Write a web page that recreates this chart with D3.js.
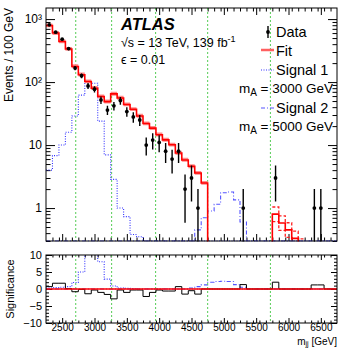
<!DOCTYPE html>
<html>
<head>
<meta charset="utf-8">
<script src="https://cdn.jsdelivr.net/npm/d3@7"></script>
<style>
body { margin: 0; background: #fff; }
svg { display: block; font-family: "Liberation Sans", Arial, Helvetica, sans-serif; }
</style>
</head>
<body>
<svg id="chart" width="346" height="348"></svg>
<script>
// binning: 100 GeV bins from 2250 to 6750
var binLow = 2250, binWidth = 100, nBins = 45;

// observed events per bin
var dataCounts = [810, 620, 480, 340, 167, 126, 87, 77, 52, 36, 42, 51, 34, 28, 25, 10, 12, 11, 8, 6, 8, 2, 3, 1, 0,
                  0, 0, 0, 0, 0, 1, 0, 0, 0, 0, 3, 0, 0, 0, 0, 0, 1, 1, 0, 0];
// background fit (values below the axis minimum are off-scale)
var fitValues = [790, 600, 440, 335, 177, 131, 102, 80, 59, 49, 65, 56, 44, 37, 29, 22, 18.6, 14.6, 12.1, 10.1, 7.5, 5.8, 4.6, 3.6, 2.5,
                 0, 0, 0, 0, 0, 0, 0, 0, 0, 0, 0.8, 0.58, 0.45, 0.33, 0.25, 0, 0, 0, 0, 0];
var fitWindows = [[0, 24], [35, 39]];
// signal 1 (mA = 3000 GeV), signal 2 (mA = 5000 GeV)
var signal1 = [4.0, 6.8, 10, 16, 29, 62, 100, 96, 24, 7, 2.85, 1.0, 0.73, 0.38, 0.35, 0, 0, 0, 0, 0, 0, 0, 0, 0, 0,
               0, 0, 0, 0, 0, 0, 0, 0, 0, 0, 0, 0, 0, 0, 0, 0, 0, 0, 0, 0];
var signal2 = [0, 0, 0, 0, 0, 0, 0, 0, 0, 0, 0, 0, 0, 0, 0, 0, 0, 0, 0, 0, 0, 0, 0.28, 0.45, 0.7,
               0.9, 1.15, 1.75, 1.8, 1.35, 0.6, 0.25, 0, 0, 0, 0, 0, 0, 0, 0, 0, 0, 0, 0, 0];
// lower panel: significance of data vs fit, and of the signals
var significance = [0.7, 1.7, 1.7, 0.1, -0.8, -0.1, -1.4, -0.3, -1.0, -1.6, -2.9, -0.3, -1.0, -0.3, -0.3, -2.2, -1.0, -0.3, -0.6, -0.6, 0.7, -1.5, -0.5, -1.5, 0,
                    0, 0, 0, 0, 0, 1.3, 0, 0, 0, 0, 2.0, 0, 0, 0, 0, 0, 1.2, 1.2, 0, 0];
var sigSignal1 = [0.3, 0.4, 0.5, 0.7, 1.9, 5.0, 14, 14, 8, 2.9, 0.9, 0.3, 0.2, 0.1, 0, 0, 0, 0, 0, 0, 0, 0, 0, 0, 0,
                  0, 0, 0, 0, 0, 0, 0, 0, 0, 0, 0, 0, 0, 0, 0, 0, 0, 0, 0, 0];
var sigSignal2 = [0, 0, 0, 0, 0, 0, 0, 0, 0, 0, 0, 0, 0, 0, 0, 0, 0, 0, 0, 0, 0, 0, 0.3, 0.7, 1.2,
                  2.0, 2.2, 2.3, 2.2, 1.3, 0.5, 0, 0, 0, 0, 0, 0, 0, 0, 0, 0, 0, 0, 0, 0];
// search window boundaries (green dotted lines)
var windowLines = [2710, 3265, 3945, 4750, 5720];

var xTicks = [2500, 3000, 3500, 4000, 4500, 5000, 5500, 6000, 6500];
var yMainTicks = [1, 10, 100, 1000];
var yMainLabels = ['1', '10', '10²', '10³'];
var yLowTicks = [-10, -5, 0, 5, 10];

var padL = 46, padR = 337, mainTop = 8, mainBottom = 241, lowTop = 255, lowBottom = 323;
var font = '"Liberation Sans", Arial, Helvetica, sans-serif';

var edges = d3.range(nBins + 1).map(function(i) { return binLow + i * binWidth; });
var centers = d3.range(nBins).map(function(i) { return binLow + (i + 0.5) * binWidth; });

var x = d3.scaleLinear().domain([binLow, binLow + nBins * binWidth]).range([padL, padR]);
var y = d3.scaleLog().domain([0.3, 1500]).range([mainBottom, mainTop]);
var ys = d3.scaleLinear().domain([-10, 10]).range([lowBottom, lowTop]);

var svg = d3.select('#chart');

var defs = svg.append('defs');
defs.append('clipPath').attr('id', 'clipMain').append('rect')
    .attr('x', padL).attr('y', mainTop).attr('width', padR - padL).attr('height', mainBottom - mainTop + 0.5);
defs.append('clipPath').attr('id', 'clipLow').append('rect')
    .attr('x', padL).attr('y', lowTop).attr('width', padR - padL).attr('height', lowBottom - lowTop);

// step histogram path over bins [from, to]
var stepPath = function(vals, yScale, floor, from, to) {
    from = from || 0;
    to = to === undefined ? nBins - 1 : to;
    var pts = [];
    for (var i = from; i <= to; i++) pts.push([edges[i], vals[i]]);
    pts.push([edges[to + 1], vals[to]]);
    return d3.line()
        .x(function(d) { return x(d[0]); })
        .y(function(d) { return yScale(Math.max(d[1], floor)); })
        .curve(d3.curveStepAfter)(pts);
};

var drawAxes = function(g, xs, yscale, yb, yt, opt) {
    var minorX = d3.range(binLow + binWidth, binLow + nBins * binWidth, binWidth)
        .filter(function(v) { return v % 500 !== 0; });
    g.append('g').attr('class', 'xlab').attr('transform', 'translate(0,' + yb + ')')
        .call(d3.axisBottom(xs).tickValues(xTicks).tickSize(-opt.xMajor).tickPadding(opt.xPad)
            .tickFormat(opt.xLabels ? d3.format('d') : ''));
    g.append('g').attr('transform', 'translate(0,' + yb + ')')
        .call(d3.axisBottom(xs).tickValues(minorX).tickSize(-opt.xMajor / 2).tickFormat(''));
    g.append('g').attr('transform', 'translate(0,' + yt + ')')
        .call(d3.axisTop(xs).tickValues(xTicks).tickSize(-opt.xMajor).tickFormat(''));
    g.append('g').attr('transform', 'translate(0,' + yt + ')')
        .call(d3.axisTop(xs).tickValues(minorX).tickSize(-opt.xMajor / 2).tickFormat(''));

    g.append('g').attr('transform', 'translate(' + padL + ',0)')
        .call(d3.axisLeft(yscale).tickValues(opt.yMajorTicks).tickSize(-opt.yMajor).tickPadding(4)
            .tickFormat(opt.yFormat));
    g.append('g').attr('transform', 'translate(' + padL + ',0)')
        .call(d3.axisLeft(yscale).tickValues(opt.yMinorTicks).tickSize(-opt.yMajor / 2).tickFormat(''));
    g.append('g').attr('transform', 'translate(' + padR + ',0)')
        .call(d3.axisRight(yscale).tickValues(opt.yMajorTicks).tickSize(-opt.yMajor).tickFormat(''));
    g.append('g').attr('transform', 'translate(' + padR + ',0)')
        .call(d3.axisRight(yscale).tickValues(opt.yMinorTicks).tickSize(-opt.yMajor / 2).tickFormat(''));

    g.selectAll('.domain').remove();
    g.selectAll('.tick line').attr('stroke', '#000').attr('stroke-width', 1);
    g.selectAll('.tick text').attr('fill', '#000').style('font-family', font);
};

// ---------- main panel ----------
var main = svg.append('g');

var yMinor = [];
[0.1, 1, 10, 100].forEach(function(dec) {
    for (var k = 2; k <= 9; k++) {
        var v = dec * k;
        if (v >= 0.3 && v <= 1500) yMinor.push(v);
    }
});

var mainAxes = main.append('g');
drawAxes(mainAxes, x, y, mainBottom, mainTop, {
    xMajor: 7, xPad: 3, xLabels: false,
    yMajor: 9, yMajorTicks: yMainTicks, yMinorTicks: yMinor,
    yFormat: function(d) { return yMainLabels[yMainTicks.indexOf(d)]; }
});
mainAxes.selectAll('.tick text').style('font-size', '12px');

var mainPlot = main.append('g').attr('clip-path', 'url(#clipMain)');

// green window lines
mainPlot.selectAll('.win').data(windowLines).enter().append('line')
    .attr('x1', function(d) { return x(d); }).attr('x2', function(d) { return x(d); })
    .attr('y1', mainTop).attr('y2', mainBottom)
    .attr('stroke', '#5c5').attr('stroke-width', 1).attr('stroke-dasharray', '2,2');

// signals
mainPlot.append('path').attr('d', stepPath(signal1, y, 0.3))
    .attr('fill', 'none').attr('stroke', '#3333ff').attr('stroke-width', 1.1).attr('stroke-dasharray', '1,1.5');
mainPlot.append('path').attr('d', stepPath(signal2, y, 0.3))
    .attr('fill', 'none').attr('stroke', '#5555ff').attr('stroke-width', 1.1).attr('stroke-dasharray', '4,2,1,2');

// fit band and line
var relUnc = [0.08, 0.3];
fitWindows.forEach(function(w, wi) {
    var a = w[0], b = w[1];
    var up = fitValues.map(function(v) { return v * (1 + relUnc[wi]); });
    var dn = fitValues.map(function(v) { return v * (1 - relUnc[wi] * 0.8); });
    if (wi === 0) {
        var pts = d3.range(a, b + 2).map(function(i) {
            var j = Math.min(i, b);
            return [edges[i], dn[j], up[j]];
        });
        mainPlot.append('path')
            .attr('d', d3.area().x(function(d) { return x(d[0]); })
                .y0(function(d) { return y(d[1]); }).y1(function(d) { return y(d[2]); })
                .curve(d3.curveStepAfter)(pts))
            .attr('fill', '#ff8c8c');
    } else {
        [up, dn].forEach(function(arr) {
            mainPlot.append('path').attr('d', stepPath(arr, y, 0.05, a, b))
                .attr('fill', 'none').attr('stroke', '#ff2020').attr('stroke-width', 1.3).attr('stroke-dasharray', '3,2');
        });
    }
});
// full fit line, off-scale bins run along the bottom
mainPlot.append('path').attr('d', stepPath(fitValues, y, 0.05))
    .attr('fill', 'none').attr('stroke', '#ff0000').attr('stroke-width', 1.6);

// data points with sqrt(N) errors
var pts = centers.map(function(c, i) { return { x: c, n: dataCounts[i] }; })
    .filter(function(d) { return d.n > 0; });
mainPlot.selectAll('.err').data(pts).enter().append('line')
    .attr('x1', function(d) { return x(d.x); }).attr('x2', function(d) { return x(d.x); })
    .attr('y1', function(d) { return y(Math.max(d.n - Math.sqrt(d.n), 0.05)); })
    .attr('y2', function(d) { return y(d.n + Math.sqrt(d.n)); })
    .attr('stroke', '#000').attr('stroke-width', 1.4);
mainPlot.selectAll('.pt').data(pts).enter().append('circle')
    .attr('cx', function(d) { return x(d.x); }).attr('cy', function(d) { return y(d.n); })
    .attr('r', 1.9).attr('fill', '#000');

main.append('rect').attr('x', padL).attr('y', mainTop).attr('width', padR - padL).attr('height', mainBottom - mainTop)
    .attr('fill', 'none').attr('stroke', '#000').attr('stroke-width', 1);

// y title
main.append('text').attr('transform', 'translate(13,' + mainTop + ') rotate(-90)')
    .attr('text-anchor', 'end').style('font-size', '12px').text('Events / 100 GeV');

// labels
main.append('text').attr('x', 121).attr('y', 30)
    .style('font-size', '16.5px').style('font-weight', 'bold').style('font-style', 'italic').text('ATLAS');
var lumi = main.append('text').attr('x', 121).attr('y', 47).style('font-size', '12.5px');
lumi.append('tspan').text('√s = 13 TeV, 139 fb');
lumi.append('tspan').attr('dy', -5).style('font-size', '9px').text('-1');
main.append('text').attr('x', 121).attr('y', 64).style('font-size', '12.5px').text('ϵ = 0.01');

// legend
var lg = main.append('g');
lg.append('line').attr('x1', 268).attr('x2', 268).attr('y1', 26).attr('y2', 38).attr('stroke', '#000').attr('stroke-width', 1.4);
lg.append('circle').attr('cx', 268).attr('cy', 32).attr('r', 1.9).attr('fill', '#000');
lg.append('text').attr('x', 276).attr('y', 37).style('font-size', '14.5px').text('Data');
lg.append('line').attr('x1', 261).attr('x2', 274).attr('y1', 50).attr('y2', 50).attr('stroke', '#ff6060').attr('stroke-width', 2.5);
lg.append('text').attr('x', 276).attr('y', 56).style('font-size', '14.5px').text('Fit');
lg.append('line').attr('x1', 261).attr('x2', 274).attr('y1', 70).attr('y2', 70).attr('stroke', '#3333ff').attr('stroke-width', 1.1).attr('stroke-dasharray', '1,1.5');
lg.append('text').attr('x', 276).attr('y', 75).style('font-size', '14.5px').text('Signal 1');
var m1 = lg.append('text').attr('x', 333).attr('y', 93).attr('text-anchor', 'end').style('font-size', '13.5px');
m1.append('tspan').text('m');
m1.append('tspan').attr('dy', 3).style('font-size', '10px').text('A');
m1.append('tspan').attr('dy', -3).text(' = 3000 GeV');
lg.append('line').attr('x1', 261).attr('x2', 274).attr('y1', 108).attr('y2', 108).attr('stroke', '#5555ff').attr('stroke-width', 1.1).attr('stroke-dasharray', '4,2,1,2');
lg.append('text').attr('x', 276).attr('y', 113).style('font-size', '14.5px').text('Signal 2');
var m2 = lg.append('text').attr('x', 333).attr('y', 131).attr('text-anchor', 'end').style('font-size', '13.5px');
m2.append('tspan').text('m');
m2.append('tspan').attr('dy', 3).style('font-size', '10px').text('A');
m2.append('tspan').attr('dy', -3).text(' = 5000 GeV');

// ---------- lower panel ----------
var low = svg.append('g');
var lowAxes = low.append('g');
drawAxes(lowAxes, x, ys, lowBottom, lowTop, {
    xMajor: 5, xPad: 1, xLabels: true,
    yMajor: 6, yMajorTicks: yLowTicks,
    yMinorTicks: d3.range(-9, 10).filter(function(v) { return v % 5 !== 0; }),
    yFormat: d3.format('d')
});
lowAxes.selectAll('.tick text').style('font-size', '11px');
lowAxes.selectAll('.xlab .tick text').style('font-size', '10px');

var lowPlot = low.append('g').attr('clip-path', 'url(#clipLow)');
lowPlot.append('path').attr('d', stepPath(sigSignal1, ys, -20))
    .attr('fill', 'none').attr('stroke', '#3333ff').attr('stroke-width', 1.1).attr('stroke-dasharray', '1,1.5');
lowPlot.append('path').attr('d', stepPath(sigSignal2, ys, -20))
    .attr('fill', 'none').attr('stroke', '#5555ff').attr('stroke-width', 1.1).attr('stroke-dasharray', '4,2,1,2');
lowPlot.selectAll('.win').data(windowLines).enter().append('line')
    .attr('x1', function(d) { return x(d); }).attr('x2', function(d) { return x(d); })
    .attr('y1', lowTop).attr('y2', lowBottom)
    .attr('stroke', '#5c5').attr('stroke-width', 1).attr('stroke-dasharray', '2,2');
lowPlot.append('path').attr('d', stepPath(significance, ys, -20))
    .attr('fill', 'none').attr('stroke', '#000').attr('stroke-width', 1);
lowPlot.append('line').attr('x1', padL).attr('x2', padR).attr('y1', ys(0)).attr('y2', ys(0))
    .attr('stroke', '#ff0000').attr('stroke-width', 1.6);

low.append('rect').attr('x', padL).attr('y', lowTop).attr('width', padR - padL).attr('height', lowBottom - lowTop)
    .attr('fill', 'none').attr('stroke', '#000').attr('stroke-width', 1);

low.append('text').attr('transform', 'translate(14,' + ((lowTop + lowBottom) / 2) + ') rotate(-90)')
    .attr('text-anchor', 'middle').style('font-size', '11px').text('Significance');

var xt = low.append('text').attr('x', padR).attr('y', 345).attr('text-anchor', 'end').style('font-size', '10px');
xt.append('tspan').text('m');
xt.append('tspan').attr('dy', 1).style('font-size', '7px').text('jj');
xt.append('tspan').attr('dy', -1).text(' [GeV]');
</script>
</body>
</html>
